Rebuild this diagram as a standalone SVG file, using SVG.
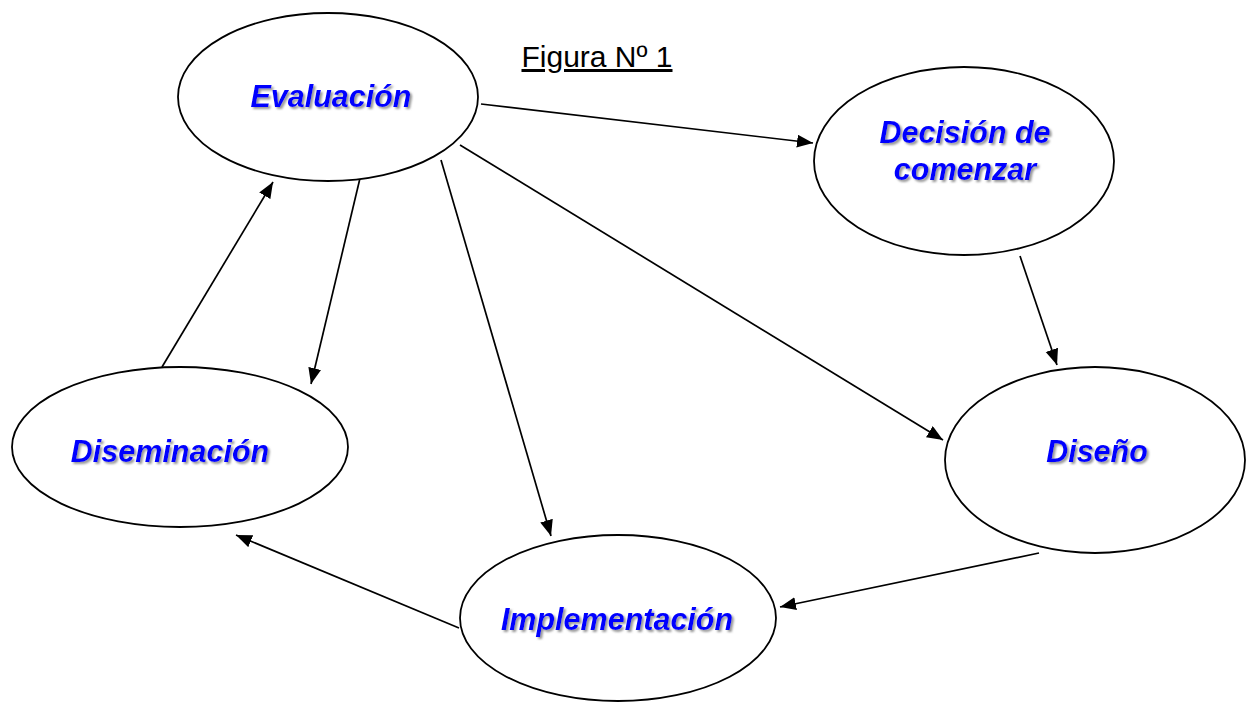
<svg xmlns="http://www.w3.org/2000/svg" width="1256" height="702" viewBox="0 0 1256 702">
  <style>
    .node ellipse { fill: #ffffff; stroke: #000000; stroke-width: 1.8; }
    .label { font-family: "Liberation Sans", Arial, sans-serif; font-weight: bold; font-style: italic; font-size: 30.5px; fill: #0000ff; text-anchor: middle; filter: url(#shade); }
    .edge { stroke: #000000; stroke-width: 1.7; fill: none; marker-end: url(#arrow); }
    .title { font-family: "Liberation Sans", Arial, sans-serif; font-size: 30px; fill: #000000; text-anchor: middle; text-decoration: underline; }
  </style>
  <defs>
    <marker id="arrow" markerUnits="userSpaceOnUse" markerWidth="17" markerHeight="14" refX="16" refY="6.5" orient="auto">
      <path d="M0,0 L16,6.5 L0,13 z" fill="#000000"/>
    </marker>
    <filter id="shade" x="-10%" y="-30%" width="130%" height="170%">
      <feDropShadow dx="2" dy="2" stdDeviation="0.9" flood-color="#8c8c8c" flood-opacity="0.9"/>
    </filter>
  </defs>
  <rect width="1256" height="702" fill="#ffffff"/>

  <text class="title" x="597" y="67">Figura Nº 1</text>

  <!-- connectors -->
  <g id="connectors">
    <line class="edge" x1="481" y1="104" x2="813" y2="143"/>
    <line class="edge" x1="1020" y1="256" x2="1057" y2="365"/>
    <line class="edge" x1="460" y1="145" x2="943" y2="440"/>
    <line class="edge" x1="441" y1="160" x2="551" y2="536"/>
    <line class="edge" x1="366" y1="153" x2="311" y2="384"/>
    <line class="edge" x1="162" y1="367" x2="273" y2="182"/>
    <line class="edge" x1="1039" y1="553" x2="780" y2="607"/>
    <line class="edge" x1="459" y1="628" x2="236" y2="535"/>
  </g>

  <g id="evaluacion" class="node">
    <ellipse cx="328" cy="97" rx="150" ry="84"/>
    <text class="label" x="331" y="107">Evaluación</text>
  </g>
  <g id="decision" class="node">
    <ellipse cx="964" cy="161" rx="150" ry="94"/>
    <text class="label" x="965" y="143">Decisión de</text>
    <text class="label" x="965" y="180">comenzar</text>
  </g>
  <g id="diseno" class="node">
    <ellipse cx="1095" cy="460" rx="150" ry="93"/>
    <text class="label" x="1097" y="462">Diseño</text>
  </g>
  <g id="implementacion" class="node">
    <ellipse cx="618" cy="618" rx="158" ry="83"/>
    <text class="label" x="617" y="630">Implementación</text>
  </g>
  <g id="diseminacion" class="node">
    <ellipse cx="180" cy="447" rx="168" ry="80"/>
    <text class="label" x="170" y="462">Diseminación</text>
  </g>
</svg>
